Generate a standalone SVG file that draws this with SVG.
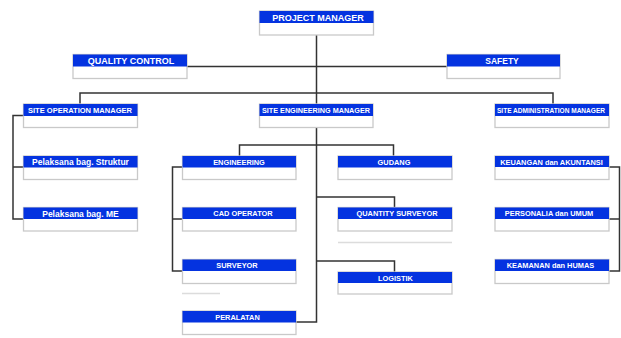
<svg xmlns="http://www.w3.org/2000/svg" width="621" height="338" viewBox="0 0 621 338">
<defs>
<style>
.bx{fill:#ffffff;stroke:#c9c9c9;stroke-width:1.3}
.bl{fill:#0433e0}
.t{font-family:"Liberation Sans",Arial,sans-serif;font-weight:bold;fill:#ffffff;text-anchor:middle;font-size:7.4px}
.t9{font-size:9px}
.t8{font-size:8.5px}
.c{fill:none;stroke:#333333;stroke-width:1.5}
.f{stroke:#dcdcdc;stroke-width:1.3}
</style>
</defs>
<rect width="621" height="338" fill="#ffffff"/>
<g id="connectors">
<path class="c" d="M316.5 35 V93"/>
<path class="c" d="M187 66.5 H447"/>
<path class="c" d="M80 104 V93 H553 V104"/>
<path class="c" d="M316.5 93 V104"/>
<path class="c" d="M23 115.5 H13 V219 H23 M13 167 H23"/>
<path class="c" d="M316.5 128 V322 H296"/>
<path class="c" d="M239.5 156 V145 H393.5 V156"/>
<path class="c" d="M316.5 197 H394.5 V207"/>
<path class="c" d="M316.5 261 H394.5 V272"/>
<path class="c" d="M182 167 H172.5 V271 H182 M172.5 219 H182"/>
<path class="c" d="M609 167 H619.5 V271 H609 M609 219 H619.5"/>
</g>
<g id="faint">
<path class="f" d="M338 242.5 H452"/>
<path class="f" d="M182 293.5 H220"/>
</g>
<g id="project-manager"><rect class="bx" x="259.5" y="11" width="114" height="24"/><rect class="bl" x="259.5" y="11" width="114" height="12"/><text class="t t9" x="318" y="20.5">PROJECT MANAGER</text></g>
<g id="quality-control"><rect class="bx" x="73" y="54.5" width="114" height="24"/><rect class="bl" x="73" y="54.5" width="114" height="12"/><text class="t t9" x="131" y="64">QUALITY CONTROL</text></g>
<g id="safety"><rect class="bx" x="447" y="54.5" width="113" height="24"/><rect class="bl" x="447" y="54.5" width="113" height="12"/><text class="t t8" x="502" y="64">SAFETY</text></g>
<g id="site-operation-manager"><rect class="bx" x="23.5" y="104" width="114" height="23.5"/><rect class="bl" x="23.5" y="104" width="114" height="12"/><text class="t" x="80" y="112.8" textLength="104" lengthAdjust="spacingAndGlyphs">SITE OPERATION MANAGER</text></g>
<g id="site-engineering-manager"><rect class="bx" x="259.5" y="104" width="113.5" height="23.5"/><rect class="bl" x="259.5" y="104" width="113.5" height="12"/><text class="t" x="316" y="112.8" textLength="108" lengthAdjust="spacingAndGlyphs">SITE ENGINEERING MANAGER</text></g>
<g id="site-administration-manager"><rect class="bx" x="495" y="104" width="114" height="23.5"/><rect class="bl" x="495" y="104" width="114" height="12"/><text class="t" x="551" y="112.5" textLength="108" lengthAdjust="spacingAndGlyphs" style="font-size:6.6px">SITE ADMINISTRATION MANAGER</text></g>
<g id="pelaksana-struktur"><rect class="bx" x="23.5" y="156" width="114" height="23.5"/><rect class="bl" x="23.5" y="156" width="114" height="11.5"/><text class="t t8" x="80.5" y="165">Pelaksana bag. Struktur</text></g>
<g id="pelaksana-me"><rect class="bx" x="23.5" y="207.5" width="114" height="23.5"/><rect class="bl" x="23.5" y="207.5" width="114" height="11.5"/><text class="t t8" x="80.5" y="216.5">Pelaksana bag. ME</text></g>
<g id="engineering"><rect class="bx" x="182.5" y="156" width="113.5" height="23.5"/><rect class="bl" x="182.5" y="156" width="113.5" height="11.5"/><text class="t" x="239" y="164.8">ENGINEERING</text></g>
<g id="cad-operator"><rect class="bx" x="182.5" y="207.5" width="113.5" height="23.5"/><rect class="bl" x="182.5" y="207.5" width="113.5" height="11.5"/><text class="t" x="243" y="216.3">CAD OPERATOR</text></g>
<g id="surveyor"><rect class="bx" x="182.5" y="259.5" width="113.5" height="24"/><rect class="bl" x="182.5" y="259.5" width="113.5" height="11.5"/><text class="t" x="237" y="268.3">SURVEYOR</text></g>
<g id="peralatan"><rect class="bx" x="182.5" y="311" width="113.5" height="23.5"/><rect class="bl" x="182.5" y="311" width="113.5" height="11.5"/><text class="t" x="237.5" y="319.8">PERALATAN</text></g>
<g id="gudang"><rect class="bx" x="338" y="156" width="114" height="23.5"/><rect class="bl" x="338" y="156" width="114" height="11.5"/><text class="t" x="394" y="164.8">GUDANG</text></g>
<g id="quantity-surveyor"><rect class="bx" x="338" y="207.5" width="114" height="23.5"/><rect class="bl" x="338" y="207.5" width="114" height="11.5"/><text class="t" x="397" y="216.3">QUANTITY SURVEYOR</text></g>
<g id="logistik"><rect class="bx" x="338" y="272" width="114" height="22"/><rect class="bl" x="338" y="272" width="114" height="11"/><text class="t" x="395.5" y="280.5">LOGISTIK</text></g>
<g id="keuangan"><rect class="bx" x="495" y="156" width="114" height="23.5"/><rect class="bl" x="495" y="156" width="114" height="11"/><text class="t" x="551.5" y="164.5">KEUANGAN dan AKUNTANSI</text></g>
<g id="personalia"><rect class="bx" x="495" y="207.5" width="114" height="23.5"/><rect class="bl" x="495" y="207.5" width="114" height="11.5"/><text class="t" x="549" y="216.3">PERSONALIA dan UMUM</text></g>
<g id="keamanan"><rect class="bx" x="495" y="259.5" width="114" height="24"/><rect class="bl" x="495" y="259.5" width="114" height="11.5"/><text class="t" x="550.5" y="268.3">KEAMANAN dan HUMAS</text></g>
</svg>
